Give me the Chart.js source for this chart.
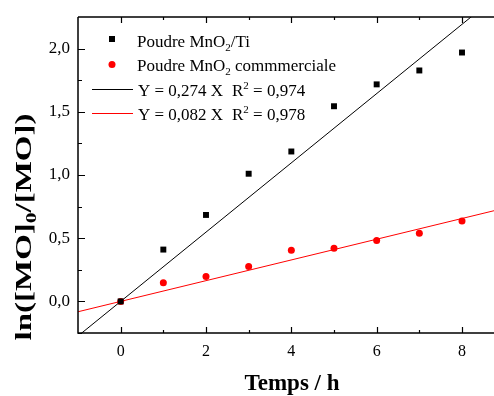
<!DOCTYPE html>
<html>
<head>
<meta charset="utf-8">
<script src="https://cdn.jsdelivr.net/npm/chart.js@4.4.1/dist/chart.umd.min.js"></script>
<style>
  html, body { margin: 0; padding: 0; background: #fff; overflow: hidden; }
  #wrap { width: 494px; height: 396px; }
</style>
</head>
<body>
<div id="wrap"><canvas id="kinChart"></canvas></div>
<script>
// --- données ---
const tempsH = [0, 1, 2, 3, 4, 5, 6, 7, 8];
const poudreTi = [0, 0.41, 0.684, 1.01, 1.186, 1.544, 1.717, 1.827, 1.969];
const poudreComm = [0, 0.147, 0.197, 0.276, 0.405, 0.421, 0.481, 0.539, 0.636];

// droites de régression (extrémités)
const fitX = [-1, 8.75];
const fitTiY = [-0.274, 2.3975];
const fitCommY = [-0.082, 0.7175];

// graduations
const xTicks = [0, 2, 4, 6, 8];
const xMinor = [1, 3, 5, 7];
const yTicks = [0, 0.5, 1, 1.5, 2];
const yMinor = [-0.25, 0.25, 0.75, 1.25, 1.75];

const SERIF = '"Liberation Serif", Tinos, "Times New Roman", Times, serif';

function pts(xs, ys) {
    return xs.map((x, i) => ({ x: x, y: ys[i] }));
}

// axes, graduations internes, titres et légende
const frame = {
    id: 'frame',
    afterDraw(chart) {
        const ctx = chart.ctx;
        const a = chart.chartArea;
        const sx = chart.scales.x, sy = chart.scales.y;
        ctx.save();
        ctx.strokeStyle = '#000';
        ctx.lineWidth = 1.5;
        ctx.beginPath();
        ctx.moveTo(a.left, a.top); ctx.lineTo(a.right, a.top);
        ctx.moveTo(a.left, a.top); ctx.lineTo(a.left, a.bottom);
        ctx.lineTo(a.right, a.bottom);
        ctx.stroke();

        ctx.lineWidth = 1.2;
        ctx.beginPath();
        xTicks.forEach(v => {
            const px = Math.round(sx.getPixelForValue(v)) + 0.5;
            ctx.moveTo(px, a.bottom); ctx.lineTo(px, a.bottom - 6);
            ctx.moveTo(px, a.top); ctx.lineTo(px, a.top + 6);
        });
        xMinor.forEach(v => {
            const px = Math.round(sx.getPixelForValue(v)) + 0.5;
            ctx.moveTo(px, a.bottom); ctx.lineTo(px, a.bottom - 3);
            ctx.moveTo(px, a.top); ctx.lineTo(px, a.top + 3);
        });
        yTicks.forEach(v => {
            const py = Math.round(sy.getPixelForValue(v)) + 0.5;
            ctx.moveTo(a.left, py); ctx.lineTo(a.left + 7, py);
        });
        yMinor.forEach(v => {
            const py = Math.round(sy.getPixelForValue(v)) + 0.5;
            ctx.moveTo(a.left, py); ctx.lineTo(a.left + 4, py);
        });
        ctx.stroke();

        // titre x
        ctx.fillStyle = '#000';
        ctx.font = 'bold 23px ' + SERIF;
        ctx.textAlign = 'center';
        ctx.textBaseline = 'alphabetic';
        ctx.fillText('Temps / h', 292, 390);

        // titre y avec indice
        ctx.save();
        ctx.translate(31, 227);
        ctx.rotate(-Math.PI / 2);
        const big = 'bold 23px ' + SERIF, small = 'bold 15px ' + SERIF;
        ctx.font = big;
        const w1 = ctx.measureText('ln([MO]').width;
        const w3 = ctx.measureText('/[MO])').width;
        ctx.font = small;
        const w2 = ctx.measureText('0').width;
        const total = w1 + w2 + w3;
        const stretch = 227 / total;
        ctx.scale(stretch, 1);
        ctx.textAlign = 'left';
        let x0 = -total / 2;
        ctx.font = big; ctx.fillText('ln([MO]', x0, 0);
        ctx.font = small; ctx.fillText('0', x0 + w1, 5);
        ctx.font = big; ctx.fillText('/[MO])', x0 + w1 + w2, 0);
        ctx.restore();

        // légende
        const reg = '17px ' + SERIF, sub = '11px ' + SERIF;
        ctx.textAlign = 'left';
        function seq(parts, x, y) {
            parts.forEach(p => {
                ctx.font = p[1] ? sub : reg;
                const dy = p[1] === 'sub' ? 4 : (p[1] === 'sup' ? -7 : 0);
                ctx.fillText(p[0], x, y + dy);
                x += ctx.measureText(p[0]).width;
            });
            return x;
        }
        ctx.fillStyle = '#000';
        ctx.fillRect(109, 36, 6, 6);
        seq([['Poudre MnO'], ['2', 'sub'], ['/Ti']], 137, 46.5);

        ctx.fillStyle = '#ff0000';
        ctx.beginPath(); ctx.arc(112, 64.5, 3.5, 0, Math.PI * 2); ctx.fill();
        ctx.fillStyle = '#000';
        seq([['Poudre MnO'], ['2', 'sub'], [' commmerciale']], 137, 71);

        ctx.lineWidth = 1;
        ctx.strokeStyle = '#000';
        ctx.beginPath(); ctx.moveTo(92, 89.5); ctx.lineTo(133, 89.5); ctx.stroke();
        seq([['Y = 0,274 X']], 138, 95.5);
        seq([['R'], ['2', 'sup'], [' = 0,974']], 232, 95.5);

        ctx.strokeStyle = '#ff0000';
        ctx.beginPath(); ctx.moveTo(92, 113.5); ctx.lineTo(133, 113.5); ctx.stroke();
        seq([['Y = 0,082 X']], 138, 119.5);
        seq([['R'], ['2', 'sup'], [' = 0,978']], 232, 119.5);
        ctx.restore();
    }
};

new Chart(document.getElementById('kinChart'), {
    type: 'scatter',
    data: {
        datasets: [{
            label: 'Poudre MnO2/Ti',
            data: pts(tempsH, poudreTi),
            pointStyle: 'rect',
            pointRadius: 4.2,
            backgroundColor: '#000',
            borderColor: '#000',
            borderWidth: 0
        }, {
            label: 'Poudre MnO2 commmerciale',
            data: pts(tempsH, poudreComm),
            pointStyle: 'circle',
            pointRadius: 3.5,
            backgroundColor: '#ff0000',
            borderColor: '#ff0000',
            borderWidth: 0
        }, {
            label: 'Y = 0,274 X',
            data: pts(fitX, fitTiY),
            showLine: true,
            pointRadius: 0,
            borderColor: '#000',
            borderWidth: 1
        }, {
            label: 'Y = 0,082 X',
            data: pts(fitX, fitCommY),
            showLine: true,
            pointRadius: 0,
            borderColor: '#ff0000',
            borderWidth: 1
        }]
    },
    options: {
        responsive: true,
        maintainAspectRatio: false,
        animation: false,
        layout: { autoPadding: false, padding: { top: 17, right: 0, left: 0, bottom: 0 } },
        plugins: {
            legend: { display: false },
            tooltip: { enabled: false }
        },
        scales: {
            x: {
                type: 'linear',
                min: -1,
                max: 8.75,
                grid: { display: false, drawTicks: false, tickLength: 0 },
                border: { display: false },
                afterBuildTicks: function(scale) { scale.ticks = xTicks.map(v => ({ value: v })); },
                afterFit: function(scale) {
                    scale.height = 63;
                    scale.paddingLeft = 0;
                    scale.paddingRight = 0;
                },
                ticks: {
                    color: '#000',
                    padding: 9,
                    font: { family: SERIF, size: 16 },
                    callback: function(value) { return String(value); }
                }
            },
            y: {
                min: -0.25,
                max: 2.25,
                grid: { display: false, drawTicks: false, tickLength: 0 },
                border: { display: false },
                afterBuildTicks: function(scale) { scale.ticks = yTicks.map(v => ({ value: v })); },
                afterFit: function(scale) {
                    scale.width = 78;
                    scale.paddingTop = 0;
                    scale.paddingBottom = 0;
                },
                ticks: {
                    color: '#000',
                    padding: 8,
                    font: { family: SERIF, size: 17 },
                    callback: function(value) { return value.toFixed(1).replace('.', ','); }
                }
            }
        }
    },
    plugins: [frame]
});
</script>
</body>
</html>
